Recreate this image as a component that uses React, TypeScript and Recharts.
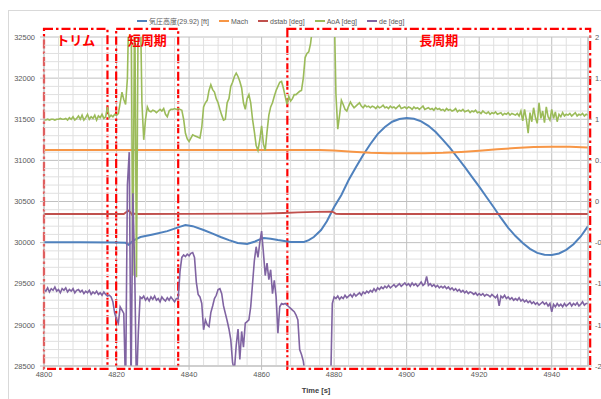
import {
  LineChart,
  Line,
  XAxis,
  YAxis,
  CartesianGrid,
  ReferenceLine,
  ReferenceArea,
  Label,
} from "recharts";

// time axis [s]
const timeTicks = [4800, 4820, 4840, 4860, 4880, 4900, 4920, 4940];
const altTicks = [28500, 29000, 29500, 30000, 30500, 31000, 31500, 32000, 32500];
const degTicks = [-2, -1.5, -1, -0.5, 0, 0.5, 1, 1.5, 2];
const minorTimeTicks = Array.from({ length: 37 }, (_, i) => 4804 + i * 4).filter((t) => t % 20 !== 0);
const minorAltTicks = Array.from({ length: 39 }, (_, i) => 28600 + i * 100).filter((v) => v % 500 !== 0);

// 気圧高度 [ft]  (time, value)
const altitude: [number, number][] = [
  [4800, 30005], [4810, 30005], [4820, 30003], [4822.5, 29998], [4823.3, 29975], [4824, 30000],
  [4825, 30035], [4826.6, 30068], [4830, 30100], [4834, 30140], [4837.6, 30194], [4839, 30214],
  [4841, 30200], [4844, 30153], [4846.5, 30110], [4848.7, 30068], [4851, 30030], [4853.4, 29995],
  [4856, 29983], [4858, 30010], [4859.5, 30040], [4860.6, 30056], [4862.5, 30048], [4864.5, 30032],
  [4868, 30008], [4871.7, 30008], [4873, 30030], [4874.4, 30068], [4876.4, 30153], [4878, 30260],
  [4880, 30433], [4882, 30580], [4884, 30761], [4886, 30915], [4888, 31065], [4890, 31199],
  [4892, 31320], [4894, 31406], [4896, 31470], [4898, 31503], [4900, 31515], [4902, 31505],
  [4904, 31475], [4906, 31420], [4908, 31345], [4910, 31250], [4912, 31150], [4914, 31035],
  [4916, 30920], [4918, 30800], [4920, 30680], [4922, 30555], [4924, 30430], [4926, 30300],
  [4928, 30180], [4930, 30080], [4932, 29995], [4934, 29925], [4936, 29875], [4938, 29852],
  [4940, 29850], [4942, 29868], [4944, 29912], [4946, 29980], [4948, 30075], [4950, 30200],
];

const mach: [number, number][] = [
  [4800, 0.626], [4820, 0.626], [4840, 0.627], [4860, 0.626], [4876, 0.625], [4880, 0.62],
  [4885, 0.606], [4890, 0.594], [4895, 0.588], [4900, 0.586], [4905, 0.587], [4910, 0.592],
  [4915, 0.603], [4920, 0.617], [4925, 0.634], [4930, 0.65], [4935, 0.662], [4940, 0.667],
  [4945, 0.667], [4950, 0.657],
];

const dstab: [number, number][] = [
  [4800, -0.152], [4822, -0.152], [4822.8, -0.125], [4823.3, -0.112], [4823.8, -0.13],
  [4824.3, -0.163], [4825, -0.148], [4826, -0.152], [4840, -0.15], [4860, -0.148],
  [4866, -0.14], [4870, -0.132], [4875, -0.125], [4879.5, -0.122], [4880.5, -0.15],
  [4882, -0.152], [4950, -0.152],
];

// sampled every 0.5 s from 4800, one row = 10 s
const SAMPLE_START = 4800;
const SAMPLE_STEP = 0.5;

const aoa = [
  0.99, 0.99, 1.0, 0.99, 1.0, 1.0, 0.99, 1.0, 1.0, 1.01, 1.0, 1.0, 1.01, 0.99, 1.02, 1.0, 1.03, 0.99, 1.01, 1.04,
  1.0, 1.05, 0.99, 1.02, 1.06, 1.0, 1.03, 1.01, 1.05, 0.99, 1.04, 1.02, 1.06, 1.01, 1.03, 1.15, 1.02, 1.05, 1.03, 1.06,
  1.05, 1.07, 1.2, 1.33, 1.24, 1.18, 1.5, 2.6, 2.6, -0.9, 2.6, -0.92, 2.6, 2.6, 1.2, 0.75, 1.0, 1.15, 1.1, 1.09,
  1.11, 1.1, 1.08, 1.1, 1.12, 1.1, 1.13, 1.06, 1.03, 1.1, 1.12, 1.12, 1.13, 1.12, 1.13, 1.12, 1.11, 1.0, 0.83, 0.76,
  0.73, 0.77, 0.81, 0.8, 0.79, 0.78, 0.77, 0.9, 1.15, 1.2, 1.23, 1.35, 1.42, 1.36, 1.33, 1.25, 1.2, 1.12, 1.05, 0.99,
  1.0, 1.2, 1.25, 1.4, 1.45, 1.52, 1.56, 1.52, 1.46, 1.38, 1.2, 1.12, 1.25, 1.3, 1.2, 1.0, 0.85, 0.68, 0.62, 0.75,
  0.92, 0.7, 0.62, 0.85, 1.05, 1.15, 1.2, 1.28, 1.35, 1.4, 1.45, 1.46, 1.38, 1.28, 1.18, 1.28, 1.22, 1.25, 1.3, 1.3,
  1.32, 1.34, 1.35, 1.5, 1.75, 1.8, 1.82, 1.92, 2.1, 2.3, 2.6, 2.6, 2.6, 2.6, 2.6, 2.6, 2.6, 2.6, 2.6, 2.6,
  2.4, 1.3, 0.88, 1.05, 1.23, 1.18, 1.12, 1.1, 1.16, 1.21, 1.17, 1.14, 1.16, 1.18, 1.2, 1.16, 1.14, 1.17, 1.15, 1.16,
  1.14, 1.16, 1.15, 1.13, 1.16, 1.14, 1.15, 1.17, 1.14, 1.15, 1.13, 1.16, 1.14, 1.15, 1.13, 1.15, 1.17, 1.13, 1.14, 1.15,
  1.13, 1.15, 1.14, 1.12, 1.15, 1.13, 1.14, 1.12, 1.14, 1.16, 1.12, 1.13, 1.14, 1.12, 1.13, 1.11, 1.14, 1.12, 1.13, 1.11,
  1.12, 1.1, 1.13, 1.11, 1.12, 1.1, 1.11, 1.13, 1.09, 1.11, 1.1, 1.12, 1.09, 1.1, 1.11, 1.08, 1.1, 1.09, 1.11, 1.08,
  1.09, 1.07, 1.1, 1.08, 1.07, 1.09, 1.06, 1.08, 1.07, 1.09, 1.06, 1.07, 1.08, 1.05, 1.07, 1.06, 1.08, 1.05, 1.07, 1.06,
  1.05, 1.07, 1.04, 1.1, 0.98, 1.12, 1.0, 0.83, 1.08, 0.97, 1.14, 1.02, 0.95, 1.2, 1.01, 1.1, 0.96, 1.15, 1.03, 0.99,
  1.12, 1.01, 1.09, 0.97, 1.06, 1.03, 1.08, 1.04, 1.06, 1.05, 1.07, 1.04, 1.06, 1.08, 1.04, 1.06, 1.05, 1.07, 1.04, 1.06,
  1.05,
];

const de = [
  -1.07, -1.09, -1.05, -1.1, -1.06, -1.08, -1.04, -1.09, -1.07, -1.11, -1.06, -1.08, -1.05, -1.1, -1.07, -1.09, -1.06, -1.11, -1.08, -1.07,
  -1.1, -1.08, -1.12, -1.09, -1.11, -1.08, -1.13, -1.1, -1.12, -1.09, -1.13, -1.11, -1.14, -1.1, -1.13, -1.15, -1.14, -1.16, -1.22, -1.36,
  -1.43, -1.48, -1.28, -1.32, -1.36, -2.3, 0.2, 0.6, -2.3, 0.1, -0.8, -2.3, -1.6, -1.16, -1.18, -1.15, -1.2, -1.17, -1.21, -1.16,
  -1.19, -1.15, -1.2, -1.18, -1.22, -1.16, -1.19, -1.21, -1.17, -1.2, -1.16, -1.19, -1.22, -1.18, -1.18, -0.85, -0.68, -0.65, -0.67, -0.64,
  -0.66, -0.63, -0.62, -0.68, -0.98, -1.13, -1.16, -1.24, -1.56, -1.44, -1.5, -1.52, -1.35, -1.27, -1.18, -1.14, -1.07, -1.06, -1.12, -1.27,
  -1.36, -1.45, -1.55, -1.68, -1.96, -2.05, -1.75, -1.55, -1.92, -1.58, -1.77, -1.48, -1.46, -1.44, -1.28, -1.0, -0.72, -0.55, -0.68, -0.5,
  -0.36, -0.62, -0.9, -0.75, -0.95, -0.83, -1.12, -0.96, -1.16, -1.6, -1.28, -1.24, -1.25, -1.24, -1.26, -1.28, -1.3, -1.32, -1.34, -1.38,
  -1.44, -1.8, -1.86, -1.94, -2.1, -2.3, -2.3, -2.3, -2.3, -2.3, -2.3, -2.3, -2.3, -2.3, -2.3, -2.3, -2.3, -2.3, -2.3, -1.24,
  -1.16, -1.18, -1.15, -1.19, -1.16, -1.18, -1.14, -1.17, -1.15, -1.13, -1.16, -1.12, -1.15, -1.13, -1.11, -1.14, -1.1, -1.12, -1.09, -1.11,
  -1.08, -1.1, -1.06, -1.09, -1.05, -1.07, -1.04, -1.06, -1.03, -1.05, -1.02, -1.05, -1.03, -1.01, -1.04, -1.02, -1.0, -1.03, -1.01, -0.99,
  -1.02, -1.0, -1.03, -0.99, -1.02, -1.0, -1.03, -1.01, -0.98, -1.02, -1.0, -0.91, -1.02, -1.0, -1.03, -1.01, -1.04, -1.02, -1.05, -1.03,
  -1.05, -1.03, -1.06, -1.04, -1.07, -1.05, -1.08, -1.06, -1.09, -1.07, -1.1, -1.08, -1.11, -1.09, -1.12, -1.1, -1.11, -1.13, -1.11, -1.14,
  -1.12, -1.14, -1.12, -1.15, -1.13, -1.14, -1.16, -1.13, -1.15, -1.17, -1.14, -1.27, -1.15, -1.17, -1.14, -1.18, -1.16, -1.19, -1.17, -1.2,
  -1.18, -1.2, -1.17, -1.21, -1.19, -1.22, -1.2, -1.23, -1.21, -1.24, -1.22, -1.25, -1.23, -1.26, -1.24, -1.22, -1.25, -1.23, -1.27, -1.24,
  -1.34, -1.25, -1.28, -1.24, -1.27, -1.25, -1.28, -1.24, -1.27, -1.25, -1.23, -1.27, -1.24, -1.26, -1.23, -1.27, -1.25, -1.22, -1.26, -1.24,
  -1.24,
];

// annotation boxes: [label, start, end]
const phases: [string, number, number][] = [
  ["トリム", 4800, 4817.5],
  ["短周期", 4819.9, 4837],
  ["長周期", 4867.1, 4950.6],
];

const pairs = (rows: [number, number][]) => rows.map(([t, v]) => ({ t, v }));
const sampled = (values: number[]) => values.map((v, i) => ({ t: SAMPLE_START + i * SAMPLE_STEP, v }));

const series = [
  { name: "気圧高度(29.92) [ft]", color: "#4F81BD", axis: "left", data: pairs(altitude), width: 2 },
  { name: "Mach", color: "#F79646", axis: "right", data: pairs(mach), width: 2 },
  { name: "dstab [deg]", color: "#C0504D", axis: "right", data: pairs(dstab), width: 1.8 },
  { name: "AoA [deg]", color: "#9BBB59", axis: "right", data: sampled(aoa), width: 1.6 },
  { name: "de [deg]", color: "#8064A2", axis: "right", data: sampled(de), width: 1.6 },
];

const FONT = "'Liberation Sans', 'Noto Sans CJK JP', sans-serif";
const tickStyle = { fontSize: 7.5, fill: "#595959", fontFamily: FONT };

export default function App() {
  return (
    <div
      style={{
        position: "absolute",
        left: 0,
        top: 0,
        width: 601,
        height: 399,
        overflow: "hidden",
        background: "#fff",
      }}
    >
      <div
        style={{
          position: "absolute",
          left: 8,
          top: 10,
          width: 700,
          height: 500,
          border: "1px solid #d9d9d9",
        }}
      />
      <div
        style={{
          position: "absolute",
          left: 137,
          top: 16,
          display: "flex",
          gap: 10,
          fontSize: 7,
          color: "#595959",
          fontFamily: FONT,
          whiteSpace: "nowrap",
        }}
      >
        {series.map((s) => (
          <div key={s.name} style={{ display: "flex", alignItems: "center" }}>
            <span style={{ width: 10, height: 2, background: s.color, marginRight: 2 }} />
            <span>{s.name}</span>
          </div>
        ))}
      </div>
      <div style={{ position: "absolute", left: 0, top: 0 }}>
        <LineChart width={628} height={399} margin={{ top: 37, right: 0, bottom: 0, left: 0 }}>
          {minorTimeTicks.map((t) => (
            <ReferenceLine key={`mx${t}`} x={t} yAxisId="left" stroke="#e0e0e0" strokeWidth={1} />
          ))}
          {minorAltTicks.map((v) => (
            <ReferenceLine key={`my${v}`} y={v} yAxisId="left" stroke="#e0e0e0" strokeWidth={1} />
          ))}
          <CartesianGrid yAxisId="left" stroke="#c0c0c0" />
          <XAxis
            dataKey="t"
            type="number"
            domain={[4800, 4950]}
            ticks={timeTicks}
            allowDataOverflow
            height={33}
            tick={tickStyle}
            tickSize={4}
            tickMargin={2}
            stroke="#bfbfbf"
          >
            <Label
              value="Time [s]"
              position="insideBottom"
              offset={6}
              style={{ fontSize: 7.5, fontWeight: "bold", fill: "#404040", fontFamily: FONT }}
            />
          </XAxis>
          <YAxis
            yAxisId="left"
            orientation="left"
            domain={[28500, 32500]}
            ticks={altTicks}
            allowDataOverflow
            width={44}
            tick={tickStyle}
            tickSize={4}
            tickMargin={5}
            stroke="#bfbfbf"
          />
          <YAxis
            yAxisId="right"
            orientation="right"
            domain={[-2, 2]}
            ticks={degTicks}
            allowDataOverflow
            width={40}
            tick={tickStyle}
            tickSize={4}
            tickMargin={3}
            stroke="#bfbfbf"
          />
          {series.map((s) => (
            <Line
              key={s.name}
              data={s.data}
              dataKey="v"
              name={s.name}
              yAxisId={s.axis}
              type="linear"
              stroke={s.color}
              strokeWidth={s.width}
              dot={false}
              activeDot={false}
              isAnimationActive={false}
            />
          ))}
          {phases.map(([label, start, end]) => (
            <ReferenceArea
              key={label}
              x1={start}
              x2={end}
              y1={28465}
              y2={32600}
              yAxisId="left"
              ifOverflow="visible"
              fill="none"
              fillOpacity={0}
              stroke="#FF0000"
              strokeWidth={2.2}
              strokeDasharray="9 3 2.5 3"
            >
              <Label
                value={label}
                position="insideTop"
                offset={7}
                style={{ fontSize: 13, fontWeight: "bold", fill: "#FF0000", fontFamily: "'Noto Sans CJK JP', sans-serif" }}
              />
            </ReferenceArea>
          ))}
        </LineChart>
      </div>
    </div>
  );
}
